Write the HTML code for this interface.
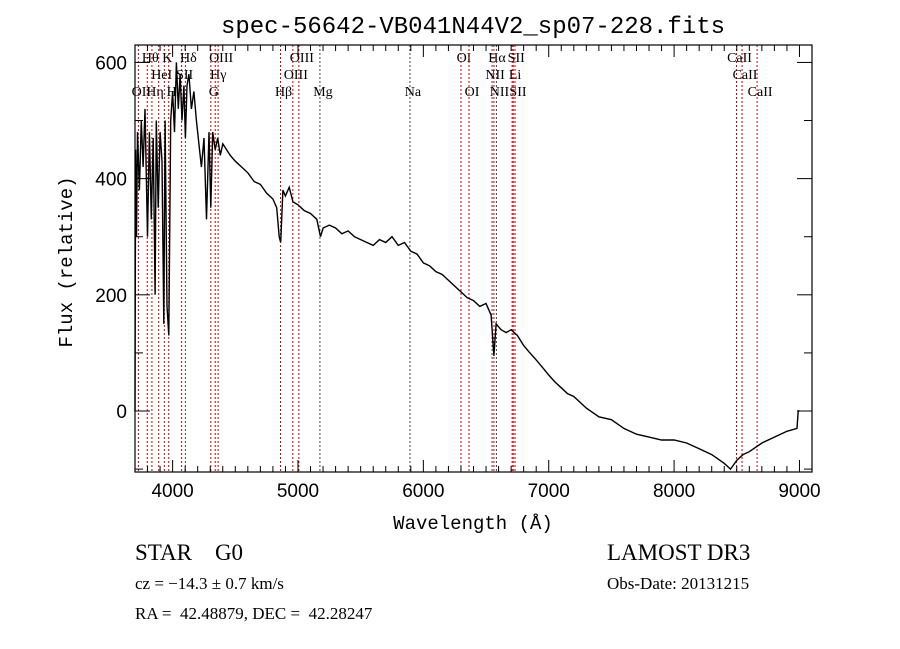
<!DOCTYPE html>
<html><head><meta charset="utf-8"><style>
body{margin:0;background:#fff;}
svg{display:block;font-family:"Liberation Serif",serif;}
text{white-space:pre;}
</style></head><body>
<svg id="chart" width="900" height="649" viewBox="0 0 900 649" xmlns="http://www.w3.org/2000/svg" xml:space="preserve">
<rect width="900" height="649" fill="#fff"/>
<text x="473" y="33" font-family="Liberation Mono, monospace" font-size="24" text-anchor="middle">spec-56642-VB041N44V2_sp07-228.fits</text>
<g id="lines"></g>
<g id="spec"></g>
<g id="axes"></g>
<text x="473" y="529" font-family="Liberation Mono, monospace" font-size="19" text-anchor="middle">Wavelength (Å)</text>
<text transform="translate(72,262) rotate(-90)" font-family="Liberation Mono, monospace" font-size="19" text-anchor="middle">Flux (relative)</text>
<text x="135" y="560" font-size="23">STAR    G0</text>
<text x="607" y="560" font-size="23">LAMOST DR3</text>
<text x="135" y="589" font-size="17">cz = −14.3 ± 0.7 km/s</text>
<text x="607" y="589" font-size="17">Obs-Date: 20131215</text>
<text x="135" y="619" font-size="17">RA =  42.48879, DEC =  42.28247</text>
</svg>
<script>
const waves=[3700,3705,3712,3720,3735,3750,3765,3780,3800,3815,3830,3845,3860,3870,3885,3900,3915,3930,3940,3955,3970,3985,4000,4015,4030,4045,4060,4075,4090,4102,4115,4130,4150,4170,4190,4210,4230,4250,4270,4290,4305,4320,4340,4360,4380,4400,4430,4460,4500,4550,4600,4650,4700,4750,4800,4830,4850,4862,4880,4900,4930,4960,5000,5050,5100,5150,5180,5200,5250,5300,5350,5400,5450,5500,5550,5600,5650,5700,5750,5800,5850,5900,5950,6000,6050,6100,6150,6200,6250,6300,6350,6400,6450,6500,6540,6563,6580,6620,6660,6700,6750,6800,6850,6900,6950,7000,7050,7100,7150,7200,7300,7400,7500,7600,7700,7800,7900,8000,8100,8200,8300,8400,8450,8500,8550,8600,8700,8800,8900,8980,8990,9000];
const flux=[0,450,300,480,380,500,420,520,300,480,330,470,200,500,350,480,430,150,500,180,130,500,550,480,600,520,580,500,560,470,560,580,520,550,500,460,420,470,330,480,350,480,450,470,440,460,450,440,430,420,410,395,390,375,365,350,300,290,380,370,385,360,355,345,340,330,300,315,320,315,305,310,300,295,290,285,295,290,300,285,290,275,270,255,250,240,235,225,215,205,195,190,180,185,165,95,150,140,135,140,130,113,100,88,75,62,50,40,30,25,5,-10,-15,-30,-40,-45,-50,-50,-55,-65,-75,-90,-100,-85,-75,-70,-55,-45,-35,-30,0,0];
const lineWaves=[3727,3798,3835,3889,3934,3969,4072,4102,4305,4340,4363,4861,4959,5007,5175,5893,6300,6364,6548,6563,6583,6708,6717,6731,8498,8542,8662];
const lineNames=["OII","Hθ","Hη","HeI","K","H","SII","Hδ","G","Hγ","OIII","Hβ","OIII","OIII","Mg","Na","OI","OI","NII","Hα","NII","Li","SII","SII","CaII","CaII","CaII"];
const lineRows=[3,1,3,2,1,3,2,1,3,2,1,3,2,1,3,3,1,3,2,1,3,2,1,3,1,2,3];
const lineDark=[0,0,0,0,0,0,0,1,0,0,0,0,0,0,1,1,0,0,1,0,1,0,0,0,0,0,0];
const xTicks=[4000,5000,6000,7000,8000,9000];
const yTicks=[0,200,400,600];
const X0=135,X1=812,Y0=45,Y1=472,XMIN=3700,XMAX=9100,YMIN=-105,YMAX=630;
const sx=w=>X0+(w-XMIN)/(XMAX-XMIN)*(X1-X0);
const sy=f=>Y1-(f-YMIN)/(YMAX-YMIN)*(Y1-Y0);
const NS="http://www.w3.org/2000/svg";
function mk(t,a,p){const e=document.createElementNS(NS,t);for(const k in a)e.setAttribute(k,a[k]);p.appendChild(e);return e;}
const gl=document.getElementById('lines');
lineWaves.forEach((w,i)=>{
  const x=sx(w);
  const ln=mk('line',{x1:x,x2:x,y1:Y0,y2:Y1,stroke:lineDark[i]?'#444':'#c00','stroke-width':1,'stroke-dasharray':'2,2'},gl);
  
  
  const t=mk('text',{x:x+3,y:Y0+17+(lineRows[i]-1)*17,'font-size':14,'text-anchor':'middle'},gl);
  t.textContent=lineNames[i];
  
  
});
const gs=document.getElementById('spec');
let d='';
waves.forEach((w,i)=>{const x=sx(w),y=Math.max(Y0,Math.min(Y1,sy(flux[i])));d+=(i?'L':'M')+x.toFixed(1)+' '+y.toFixed(1);});
const p=mk('path',{d:d,fill:'none',stroke:'#000','stroke-width':1.4},gs);


const ga=document.getElementById('axes');
const fr=mk('rect',{x:X0,y:Y0,width:X1-X0,height:Y1-Y0,fill:'none',stroke:'#000','stroke-width':1.2},ga);


for(let w=3700;w<=9100;w+=100){
  const x=sx(w),big=w%1000===0,L=big?12:6;
  mk('line',{x1:x,x2:x,y1:Y1,y2:Y1-L,stroke:'#000'},ga);
  mk('line',{x1:x,x2:x,y1:Y0,y2:Y0+L,stroke:'#000'},ga);
}
xTicks.forEach(v=>{const t=mk('text',{x:sx(v),y:Y1+25,'font-family':'Liberation Sans, sans-serif','font-size':19,'text-anchor':'middle'},ga);t.textContent=v;
  
  });
for(let f=-100;f<=600;f+=100){
  const y=sy(f),big=f%200===0,L=big?15:8;
  mk('line',{x1:X0,x2:X0+L,y1:y,y2:y,stroke:'#000'},ga);
  mk('line',{x1:X1,x2:X1-L,y1:y,y2:y,stroke:'#000'},ga);
}
yTicks.forEach(v=>{const t=mk('text',{x:X0-8,y:sy(v)+7,'font-family':'Liberation Sans, sans-serif','font-size':19,'text-anchor':'end'},ga);t.textContent=v;
  
  });
</script>
</body></html>
